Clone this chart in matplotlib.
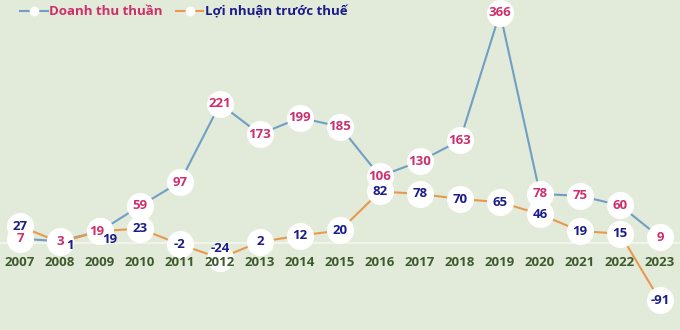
import matplotlib
matplotlib.use("Agg")
import matplotlib.pyplot as plt
from matplotlib.lines import Line2D

plt.rcParams['font.family'] = ['Open Sans', 'DejaVu Sans']

years = list(range(2007, 2024))
revenue = [7, 3, 19, 59, 97, 221, 173, 199, 185, 106, 130, 163, 366, 78, 75, 60, 9]
profit = [27, 1, 19, 23, -2, -24, 2, 12, 20, 82, 78, 70, 65, 46, 19, 15, -91]

rev_name = "Doanh thu thuần"
prof_name = "Lợi nhuận trước thuế"

# label nudges (points) where labels would collide
rev_off = {2009: (-2, 0)}
prof_off = {2008: (7, -2), 2009: (7, -6), 2012: (0, 7)}

bg = "#e2ebd9"
blue = "#6f9fc4"
orange = "#e8994e"
red = "#cc2f6b"
navy = "#1b1b8a"
green = "#3d5a2c"

fig = plt.figure(figsize=(6.8, 3.3), dpi=100)
fig.patch.set_facecolor(bg)
ax = fig.add_axes([0, 0, 1, 1])
ax.set_facecolor(bg)
ax.set_xlim(2006.5, 2023.5)
ax.set_ylim(-138, 386)
ax.axis("off")

ax.axhline(0, color="#f3f6ee", lw=1.2, zorder=1)

ax.plot(years, revenue, color=blue, lw=1.5, zorder=2)
ax.plot(years, profit, color=orange, lw=1.5, zorder=2)

ax.plot(years, revenue, "o", ms=18.5, mfc="white", mec="white", zorder=3)
ax.plot(years, profit, "o", ms=18.5, mfc="white", mec="white", zorder=3)

for y, v in zip(years, revenue):
    ax.annotate(str(v), (y, v), xytext=rev_off.get(y, (0, 0)), textcoords="offset points",
                ha="center", va="center", fontsize=9.5, fontweight="bold", color=red, zorder=5)
for y, v in zip(years, profit):
    ax.annotate(str(v), (y, v), xytext=prof_off.get(y, (0, 0)), textcoords="offset points",
                ha="center", va="center", fontsize=9.5, fontweight="bold", color=navy, zorder=5)

for y in years:
    ax.text(y, -31, str(y), ha="center", va="center", fontsize=9.5,
            fontweight="bold", color=green, zorder=4)

handles = [
    Line2D([], [], color=blue, lw=1.5, marker="o", ms=6, mfc="white", mec="white"),
    Line2D([], [], color=orange, lw=1.5, marker="o", ms=6, mfc="white", mec="white"),
]
leg = ax.legend(handles, [rev_name, prof_name], loc="upper left", ncol=2, frameon=False,
                bbox_to_anchor=(0.012, 1.02), handlelength=2.1, handletextpad=0.1,
                columnspacing=1.0, prop={"weight": "bold", "size": 9.5})
leg.get_texts()[0].set_color(red)
leg.get_texts()[1].set_color(navy)

fig.savefig("out.png", dpi=100, facecolor=bg)
